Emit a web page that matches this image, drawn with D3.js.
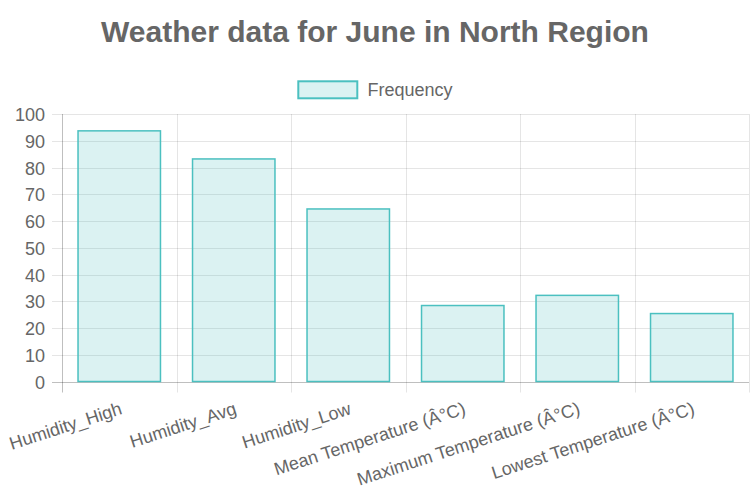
<!DOCTYPE html>
<html>
<head>
<meta charset="utf-8">
<script src="https://cdn.jsdelivr.net/npm/d3@7"></script>
<style>
  html, body { margin: 0; padding: 0; background: #fff; }
  svg { display: block; }
  text { font-family: "Liberation Sans", Arial, Helvetica, sans-serif; fill: #666; }
</style>
</head>
<body>
<svg id="chart" width="750" height="499"></svg>
<script>
const titleText = "Weather data for June in North Region";
const seriesName = "Frequency";
const categories = ["Humidity_High", "Humidity_Avg", "Humidity_Low", "Mean Temperature (Â°C)", "Maximum Temperature (Â°C)", "Lowest Temperature (Â°C)"];
const values = [93.7, 83.2, 64.5, 28.4, 32.2, 25.4];
const yTicks = [0, 10, 20, 30, 40, 50, 60, 70, 80, 90, 100];

(function () {
const svg = d3.select("#chart");
const W = 750;
const pLeft = 62, pRight = 749, pTop = 114, pBottom = 381.5;
const fill = "rgba(75,192,192,0.2)", stroke = "rgb(75,192,192)";

const x = d3.scaleBand().domain(categories).range([pLeft, pRight]).paddingInner(0).paddingOuter(0);
const y = d3.scaleLinear().domain([0, 100]).range([pBottom, pTop]);

// title
svg.append("text").attr("x", W / 2).attr("y", 42).attr("text-anchor", "middle")
  .style("font-size", "30px").style("font-weight", "bold").text(titleText);

// legend
const lg = svg.append("g");
lg.append("rect").attr("x", 298.3).attr("y", 81.3).attr("width", 59).attr("height", 17)
  .attr("fill", fill).attr("stroke", stroke).attr("stroke-width", 2);
lg.append("text").attr("x", 367.5).attr("y", 90).attr("dominant-baseline", "central")
  .style("font-size", "18px").text(seriesName);

// horizontal grid + y ticks
const gy = svg.append("g");
yTicks.forEach(t => {
  const yy = Math.round(y(t)) + 0.5;
  gy.append("line").attr("x1", pLeft - 10).attr("x2", pRight).attr("y1", yy).attr("y2", yy)
    .attr("stroke", t === 0 ? "rgba(0,0,0,0.25)" : "rgba(0,0,0,0.1)").attr("stroke-width", 1);
  gy.append("text").attr("x", 45).attr("y", yy).attr("text-anchor", "end")
    .attr("dominant-baseline", "central").style("font-size", "18px").text(t);
});

// vertical grid lines
const bounds = categories.map(c => x(c)).concat([pRight]);
bounds.forEach((bx, i) => {
  const xx = Math.round(bx) + 0.5;
  svg.append("line").attr("x1", xx).attr("x2", xx).attr("y1", pTop).attr("y2", pBottom + 11)
    .attr("stroke", i === 0 ? "rgba(0,0,0,0.25)" : "rgba(0,0,0,0.1)").attr("stroke-width", 1);
});

// bars
const bw = x.bandwidth() * 0.72;
svg.append("g").selectAll("rect").data(values).join("rect")
  .attr("x", (d, i) => x(categories[i]) + (x.bandwidth() - bw) / 2)
  .attr("y", d => y(d))
  .attr("width", bw)
  .attr("height", d => y(0) - y(d))
  .attr("fill", fill).attr("stroke", stroke).attr("stroke-width", 1.5);

// x labels
const ang = 18;
svg.append("g").selectAll("text").data(categories).join("text")
  .attr("transform", c => `translate(${x(c) + x.bandwidth() / 2 + 2},408) rotate(${-ang})`)
  .attr("text-anchor", "end").attr("dominant-baseline", "central")
  .style("font-size", "18px").text(c => c);
})();
</script>
</body>
</html>
